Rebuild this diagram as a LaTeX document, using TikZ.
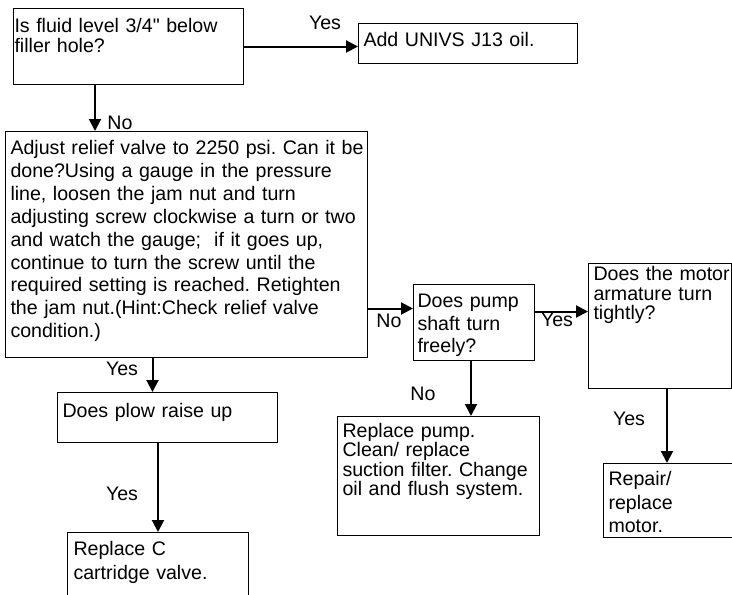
\documentclass[tikz,border=0pt]{standalone}
\usepackage{fontspec}
\setmainfont{Liberation Sans}[Ligatures=TeXOff]
\usetikzlibrary{arrows.meta}
\frenchspacing
\newcommand\fsz[1]{\fontsize{19.6pt}{#1pt}\selectfont}
\begin{document}
\begin{tikzpicture}[x=1pt, y=-1pt, >={Triangle[length=12pt,width=12pt]},
  box/.style={draw, line width=1pt, align=left, anchor=north west, inner ysep=0pt,
    execute at begin node={\rightskip=0pt plus 1fil minus 40pt\hyphenpenalty=10000}},
  lbl/.style={anchor=base, inner sep=0pt, font=\fsz{23}},
  arr/.style={->, line width=2pt}]
\useasboundingbox (0,0) rectangle (732,595);
\clip (0,0) rectangle (732,595);
\node[box, inner xsep=1pt, text width=228pt, text height=24pt, text depth=52pt, font=\fsz{20}] (fluid) at (13,8)
  {Is fluid level 3/4" below\\filler hole?};
\node[box, inner xsep=5pt, text width=209pt, text height=23pt, text depth=17pt, font=\fsz{23}] (addoil) at (358,23)
  {Add UNIVS J13 oil.};
\node[box, inner xsep=5pt, text width=352pt, text height=23pt, text depth=203pt, font=\fsz{22.9}] (adjust) at (5,131)
  {Adjust relief valve to 2250 psi. Can it be\\done?Using a gauge in the pressure\\line, loosen the jam nut and turn\\adjusting screw clockwise a turn or two\\and watch the gauge;\ \ if it goes up,\\continue to turn the screw until the\\required setting is reached. Retighten\\the jam nut.(Hint:Check relief valve\\condition.)};
\node[box, inner xsep=4pt, text width=113pt, text height=23pt, text depth=53pt, font=\fsz{22.5}] (pump) at (413,284)
  {Does pump\\shaft turn\\freely?};
\node[box, inner xsep=5pt, text width=133pt, text height=17pt, text depth=108pt, font=\fsz{19.5}] (motor) at (588,263)
  {Does the motor\\armature turn\\tightly?};
\node[box, inner xsep=5pt, text width=192pt, text height=21pt, text depth=98pt, font=\fsz{16.7}] (replpump) at (337,416)
  {Replace pump.\\Clean/ replace\\suction filter. Change\\oil and flush system.};
\node[box, inner xsep=5pt, text width=150pt, text height=22pt, text depth=52pt, font=\fsz{23.5}] (repair) at (603,463)
  {Repair/\\replace\\motor.};
\node[box, inner xsep=5pt, text width=210pt, text height=25pt, text depth=25pt, font=\fsz{23}] (plow) at (57,392)
  {Does plow raise up};
\node[box, inner xsep=6pt, text width=169pt, text height=23pt, text depth=65pt, font=\fsz{24}] (cart) at (67,532)
  {Replace C\\cartridge valve.};
\draw[arr] (fluid.east) -- (fluid.east -| addoil.west);
\draw[arr] ([xshift=82pt]fluid.south west) -- ([xshift=82pt]fluid.south west |- adjust.north);
\draw[arr] ([yshift=14pt]pump.west -| adjust.east) -- ([yshift=14pt]pump.west);
\draw[arr] ([yshift=11pt]pump.east) -- ([yshift=11pt]pump.east -| motor.west);
\draw[arr] ([xshift=-3pt]pump.south) -- ([xshift=-3pt]pump.south |- replpump.north);
\draw[arr] ([xshift=7pt]motor.south) -- ([xshift=7pt]motor.south |- repair.north);
\draw[arr] ([xshift=-15pt]plow.north |- adjust.south) -- ([xshift=-15pt]plow.north);
\draw[arr] (cart.north |- plow.south) -- (cart.north);
\node[lbl] (yes1) at (325,29) {Yes};
\node[lbl] (no1) at (120,129) {No};
\node[lbl] (no2) at (389,327) {No};
\node[lbl] (yes2) at (557,326) {Yes};
\node[lbl] (no3) at (423,400) {No};
\node[lbl] (yes3) at (629,425) {Yes};
\node[lbl] (yes4) at (122,375) {Yes};
\node[lbl] (yes5) at (122,500) {Yes};
\end{tikzpicture}
\end{document}
